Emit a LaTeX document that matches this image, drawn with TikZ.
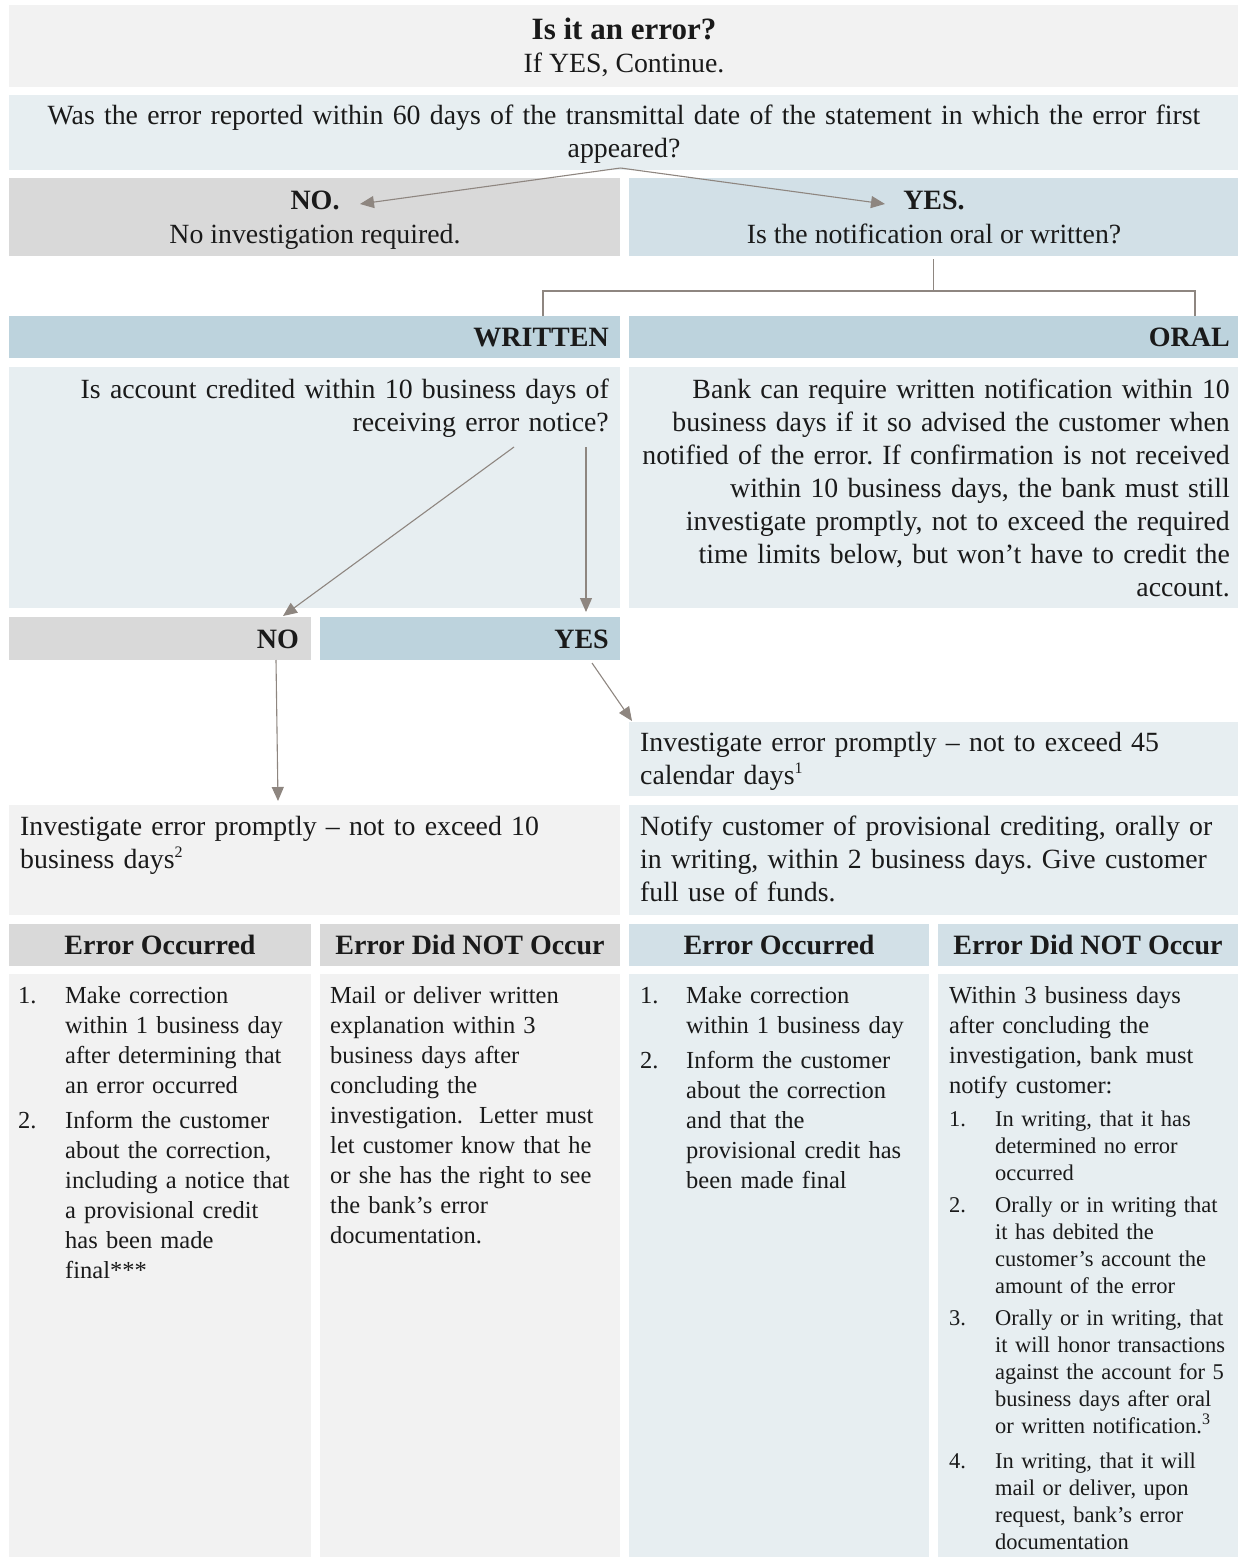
\documentclass[tikz,border=0pt]{standalone}
\usepackage{fontspec}
\setmainfont{Liberation Serif}
\usetikzlibrary{arrows.meta,calc}
\definecolor{gl}{HTML}{F2F2F2}
\definecolor{gm}{HTML}{D9D9D9}
\definecolor{bl}{HTML}{E7EEF1}
\definecolor{bm}{HTML}{D2E0E7}
\definecolor{bd}{HTML}{BDD3DD}
\definecolor{arr}{HTML}{8E8680}
\definecolor{ink}{HTML}{1A1A1A}
\frenchspacing
\newcommand\supn[1]{\raisebox{0.8ex}{\fontsize{16}{16}\selectfont #1}}
\tikzset{
  cell/.style={anchor=north west, inner sep=0pt, outer sep=0pt, draw=none},
  conn/.style={draw=arr, line width=1.1pt},
  arrowc/.style={conn, -{Triangle[length=14pt,width=12pt]}},
  tmain/.style={inner sep=0pt, text=ink, font=\fontsize{27.8}{33}\selectfont},
  thead/.style={inner sep=0pt, text=ink, font=\fontsize{28}{33}\selectfont\bfseries},
  tcol/.style={inner sep=0pt, text=ink, font=\fontsize{24.5}{30}\selectfont, align=left, anchor=base west, text width=300pt},
  tsmall/.style={inner sep=0pt, text=ink, font=\fontsize{22.5}{27}\selectfont, align=left, anchor=base west, text width=300pt},
}
\begin{document}
\begin{tikzpicture}[x=1pt,y=-1pt]
\useasboundingbox (0,0) rectangle (1238,1557);
% cells
\node[cell, fill=gl, minimum width=1229pt, minimum height=82pt] (top) at (9,5) {};
\node[cell, fill=bl, minimum width=1229pt, minimum height=75pt] (q) at (9,95) {};
\node[cell, fill=gm, minimum width=611pt, minimum height=78pt] (no) at (9,178) {};
\node[cell, fill=bm, minimum width=609pt, minimum height=78pt] (yes) at (629,178) {};
\node[cell, fill=bd, minimum width=611pt, minimum height=42pt] (wr) at (9,316) {};
\node[cell, fill=bd, minimum width=609pt, minimum height=42pt] (or) at (629,316) {};
\node[cell, fill=bl, minimum width=611pt, minimum height=241pt] (wq) at (9,367) {};
\node[cell, fill=bl, minimum width=609pt, minimum height=241pt] (ot) at (629,367) {};
\node[cell, fill=gm, minimum width=302pt, minimum height=43pt] (nb) at (9,617) {};
\node[cell, fill=bd, minimum width=300pt, minimum height=43pt] (yb) at (320,617) {};
\node[cell, fill=bl, minimum width=609pt, minimum height=74pt] (i45) at (629,722) {};
\node[cell, fill=gl, minimum width=611pt, minimum height=110pt] (i10) at (9,805) {};
\node[cell, fill=bl, minimum width=609pt, minimum height=110pt] (nt) at (629,805) {};
\node[cell, fill=gm, minimum width=302pt, minimum height=42pt] (h1) at (9,924) {};
\node[cell, fill=gm, minimum width=300pt, minimum height=42pt] (h2) at (320,924) {};
\node[cell, fill=bm, minimum width=300pt, minimum height=42pt] (h3) at (629,924) {};
\node[cell, fill=bm, minimum width=300pt, minimum height=42pt] (h4) at (938,924) {};
\node[cell, fill=gl, minimum width=302pt, minimum height=583pt] (c1) at (9,974) {};
\node[cell, fill=gl, minimum width=300pt, minimum height=583pt] (c2) at (320,974) {};
\node[cell, fill=bl, minimum width=300pt, minimum height=583pt] (c3) at (629,974) {};
\node[cell, fill=bl, minimum width=300pt, minimum height=583pt] (c4) at (938,974) {};

% texts
\node[inner sep=0pt, text=ink, font=\fontsize{31}{33}\selectfont\bfseries, anchor=base] (ttl) at (624,40) {Is it an error?};
\node[tmain, anchor=base] (ttl2) at (624,73) {If YES, Continue.};
\node[tmain, anchor=base, text width=1225pt, align=center] (qt) at (624,125) {Was the error reported within 60 days of the transmittal date of the statement in which the error first\\appeared?};
\node[thead, anchor=base] (nolab) at (315,210) {NO.};
\node[tmain, anchor=base] (notxt) at (315,243) {No investigation required.};
\node[thead, anchor=base] (yeslab) at (934,210) {YES.};
\node[tmain, anchor=base] (yestxt) at (934,243) {Is the notification oral or written?};
\node[thead, anchor=base east] (wrlab) at (609,346) {WRITTEN};
\node[thead, anchor=base east] (orlab) at (1230,346) {ORAL};
\node[tmain, anchor=base east, text width=600pt, align=right] (wqt) at (609,398) {Is account credited within 10 business days of\\receiving error notice?};
\node[tmain, anchor=base east, text width=610pt, align=right] (ott) at (1230,398) {Bank can require written notification within 10\\business days if it so advised the customer when\\notified of the error. If confirmation is not received\\within 10 business days, the bank must still\\investigate promptly, not to exceed the required\\time limits below, but won't have to credit the\\account.};
\node[thead, anchor=base east] (nbl) at (299,648) {NO};
\node[thead, anchor=base east] (ybl) at (609,648) {YES};
\node[tmain, anchor=base west, text width=600pt, align=left] (i45t) at (640,751) {Investigate error promptly -- not to exceed 45\\calendar days\supn{1}};
\node[tmain, anchor=base west, text width=600pt, align=left] (i10t) at (20,835) {Investigate error promptly -- not to exceed 10\\business days\supn{2}};
\node[tmain, anchor=base west, text width=600pt, align=left] (ntt) at (640,835) {Notify customer of provisional crediting, orally or\\in writing, within 2 business days. Give customer\\full use of funds.};
\node[thead, anchor=base] (h1t) at (160,954) {Error Occurred};
\node[thead, anchor=base] (h2t) at (470,954) {Error Did NOT Occur};
\node[thead, anchor=base] (h3t) at (779,954) {Error Occurred};
\node[thead, anchor=base] (h4t) at (1088,954) {Error Did NOT Occur};

% column 1
\node[tcol] (c1n1) at (18,1003) {1.};
\node[tcol, text width=250pt] (c1i1) at (65,1003) {Make correction\\within 1 business day\\after determining that\\an error occurred};
\node[tcol] (c1n2) at (18,1128) {2.};
\node[tcol, text width=250pt] (c1i2) at (65,1128) {Inform the customer\\about the correction,\\including a notice that\\a provisional credit\\has been made\\final***};
% column 2
\node[tcol] (c2t) at (330,1003) {Mail or deliver written\\explanation within 3\\business days after\\concluding the\\investigation.\ \ Letter must\\let customer know that he\\or she has the right to see\\the bank's error\\documentation.};
% column 3
\node[tcol] (c3n1) at (640,1003) {1.};
\node[tcol, text width=250pt] (c3i1) at (686,1003) {Make correction\\within 1 business day};
\node[tcol] (c3n2) at (640,1068) {2.};
\node[tcol, text width=250pt] (c3i2) at (686,1068) {Inform the customer\\about the correction\\and that the\\provisional credit has\\been made final};
% column 4
\node[tcol] (c4t) at (949,1003) {Within 3 business days\\after concluding the\\investigation, bank must\\notify customer:};
\node[tsmall] (c4n1) at (949,1126) {1.};
\node[tsmall, text width=250pt] (c4i1) at (995,1126) {In writing, that it has\\determined no error\\occurred};
\node[tsmall] (c4n2) at (949,1212) {2.};
\node[tsmall, text width=250pt] (c4i2) at (995,1212) {Orally or in writing that\\it has debited the\\customer's account the\\amount of the error};
\node[tsmall] (c4n3) at (949,1325) {3.};
\node[tsmall, text width=250pt] (c4i3) at (995,1325) {Orally or in writing, that\\it will honor transactions\\against the account for 5\\business days after oral\\or written notification.\supn{3}};
\node[tsmall] (c4n4) at (949,1468) {4.};
\node[tsmall, text width=250pt] (c4i4) at (995,1468) {In writing, that it will\\mail or deliver, upon\\request, bank's error\\documentation};

% connectors
\coordinate (qs) at ($(q.south)+(-3,-2)$);
\draw[arrowc] (qs) -- ($(no.north west)+(351,26)$);
\draw[arrowc] (qs) -- ($(yes.north west)+(256,26)$);
\draw[conn] ($(yes.south)+(0,3)$) -- ++(0,32) coordinate (j);
\draw[conn] ($(wr.north west)+(534,0)$) |- (j) -| ($(or.north west)+(566,0)$);
\draw[arrowc] ($(wq.north west)+(505,80)$) -- ($(nb.north east)+(-28,-1)$);
\draw[arrowc] ($(wq.north west)+(577,80)$) -- ($(yb.north west)+(266,-5)$);
\draw[arrowc] ($(nb.south west)+(267,0)$) -- ($(i10.north west)+(269,-4)$);
\draw[arrowc] ($(yb.south west)+(272,3)$) -- ($(i45.north west)+(3,-1)$);
\end{tikzpicture}
\end{document}
